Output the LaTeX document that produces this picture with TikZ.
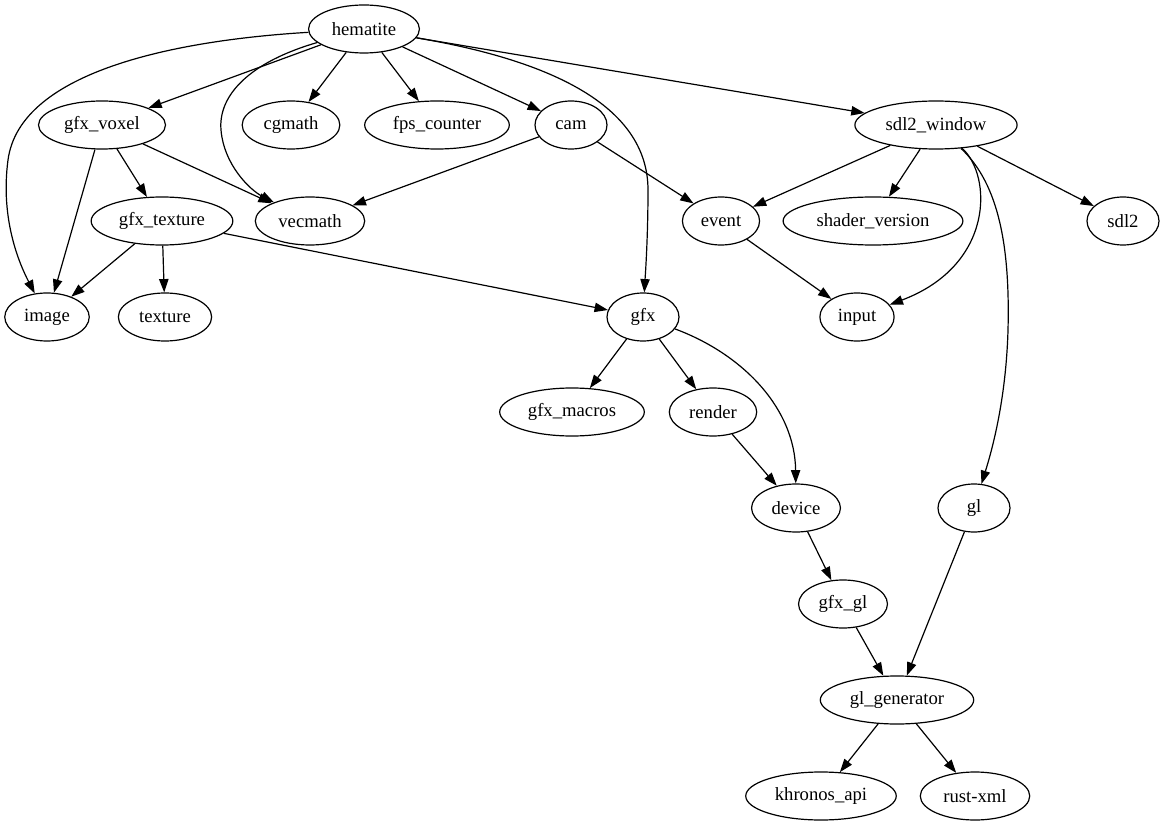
\documentclass[tikz,border=0pt]{standalone}
\usepackage{fontspec}
\setmainfont{Liberation Serif}
\usepackage{tikz}
\usetikzlibrary{shapes.geometric, arrows.meta}

\begin{document}
\begin{tikzpicture}[
  x=0.75pt, y=-0.75pt,
  pkg/.style={draw, ellipse, line width=0.9pt, minimum width=54pt,
    minimum height=36pt, inner xsep=5.3pt,
    font=\fontsize{14pt}{16pt}\selectfont},
  >={Triangle[length=10pt,width=7pt]},
  line width=0.9pt
]
\useasboundingbox (0,0) rectangle (1164,827);

\node[pkg] (hematite) at (364,29)  {hematite};
\node[pkg] (gfxvoxel) at (102,125) {gfx\_voxel};
\node[pkg] (cgmath)   at (291,125) {cgmath};
\node[pkg] (fps)      at (437,125) {fps\_counter};
\node[pkg] (cam)      at (571,125) {cam};
\node[pkg] (sdlwin)   at (936,125) {sdl2\_window};
\node[pkg] (gfxtex)   at (162,221) {gfx\_texture};
\node[pkg] (vecmath)  at (310,221) {vecmath};
\node[pkg] (event)    at (721,221) {event};
\node[pkg] (shader)   at (873,221) {shader\_version};
\node[pkg] (sdl)      at (1123,221) {sdl2};
\node[pkg] (image)    at (47,317)  {image};
\node[pkg] (texture)  at (165,317) {texture};
\node[pkg] (gfx)      at (643,317) {gfx};
\node[pkg] (input)    at (857,317) {input};
\node[pkg] (macros)   at (572,412) {gfx\_macros};
\node[pkg] (render)   at (713,412) {render};
\node[pkg] (device)   at (796,508) {device};
\node[pkg] (gl)       at (974,508) {gl};
\node[pkg] (gfxgl)    at (843,604) {gfx\_gl};
\node[pkg] (glgen)    at (897,700) {gl\_generator};
\node[pkg] (khronos)  at (821,796) {khronos\_api};
\node[pkg] (rustxml)  at (975,796) {rust-xml};

% hematite deps
\draw[->] (hematite) .. controls (180,40) and (20,70) .. (8,160)
  .. controls (0,220) and (20,265) .. (image);
\draw[->] (hematite) -- (gfxvoxel);
\draw[->] (hematite) .. controls (250,62) and (218,95) .. (221,130)
  .. controls (224,165) and (250,190) .. (vecmath);
\draw[->] (hematite) -- (cgmath);
\draw[->] (hematite) -- (fps);
\draw[->] (hematite) -- (cam);
\draw[->] (hematite) .. controls (560,62) and (648,110) .. (648,190)
  .. controls (648,240) and (645,280) .. (gfx);
\draw[->] (hematite) -- (sdlwin);

\draw[->] (gfxvoxel) -- (image);
\draw[->] (gfxvoxel) -- (gfxtex);
\draw[->] (gfxvoxel) -- (vecmath);
\draw[->] (cam) -- (vecmath);
\draw[->] (cam) -- (event);

% sdl2_window deps
\draw[->] (sdlwin) -- (event);
\draw[->] (sdlwin) -- (shader);
\draw[->] (sdlwin) -- (sdl);
\draw[->] (sdlwin) .. controls (992,175) and (995,265) .. (input);
\draw[->] (sdlwin) .. controls (1000,185) and (1010,250) .. (1008,330)
  .. controls (1006,400) and (992,450) .. (gl);

\draw[->] (gfxtex) -- (image);
\draw[->] (gfxtex) -- (texture);
\draw[->] (gfxtex) -- (gfx);
\draw[->] (event) -- (input);

% gfx down to gl_generator
\draw[->] (gfx) -- (macros);
\draw[->] (gfx) -- (render);
\draw[->] (gfx) .. controls (745,355) and (795,410) .. (device);
\draw[->] (render) -- (device);
\draw[->] (device) -- (gfxgl);
\draw[->] (gfxgl) -- (glgen);
\draw[->] (gl) -- (glgen);
\draw[->] (glgen) -- (khronos);
\draw[->] (glgen) -- (rustxml);
\end{tikzpicture}
\end{document}
